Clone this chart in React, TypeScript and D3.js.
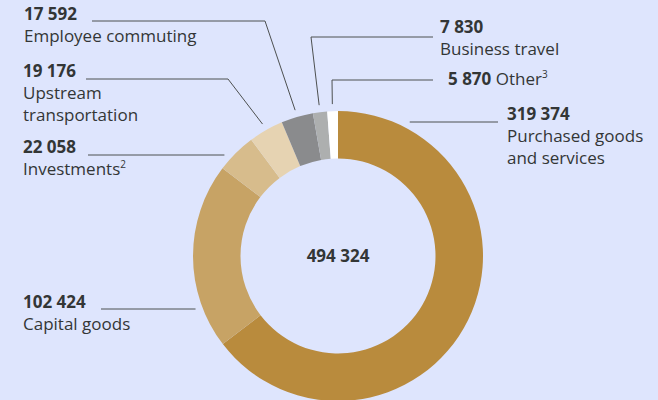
import React from "react";
import * as d3 from "d3";

const categories = [
  "Purchased goods and services",
  "Capital goods",
  "Investments",
  "Upstream transportation",
  "Employee commuting",
  "Business travel",
  "Other",
];
const values = [319374, 102424, 22058, 19176, 17592, 7830, 5870];
const valueLabels = ["319 374", "102 424", "22 058", "19 176", "17 592", "7 830", "5 870"];
const totalLabel = "494 324";
const colors = ["#b98b3d", "#c7a365", "#d7bc8c", "#e6d3b2", "#8a8b8d", "#adafaf", "#ffffff"];

// label layout (positions only)
type Lab = {
  x: number; y: number; anchor: "start";
  lines: string[]; sup?: string; inline?: boolean;
  lineY: number; lineX0: number; lineX1?: number; elbowX?: number;
};
const layout: Lab[] = [
  { x: 507, y: 120, anchor: "start", lines: ["Purchased goods", "and services"], lineY: 122, lineX0: 498 },
  { x: 23, y: 308, anchor: "start", lines: ["Capital goods"], lineY: 309, lineX0: 101 },
  { x: 23, y: 153, anchor: "start", lines: ["Investments"], sup: "2", lineY: 155, lineX0: 88 },
  { x: 23, y: 77, anchor: "start", lines: ["Upstream", "transportation"], lineY: 79, lineX0: 86, elbowX: 228 },
  { x: 24, y: 20, anchor: "start", lines: ["Employee commuting"], lineY: 21, lineX0: 92, elbowX: 265 },
  { x: 440, y: 33, anchor: "start", lines: ["Business travel"], lineY: 37, lineX0: 433, elbowX: 311 },
  { x: 448, y: 85, anchor: "start", lines: ["Other"], sup: "3", inline: true, lineY: 80, lineX0: 433, elbowX: 332 },
];

const W = 658, H = 400;
const cx = 338, cy = 256;
const rOuter = 145, rInner = 97.5;
const rLine = 152;
const FONT = "'Open Sans', 'Noto Sans', sans-serif";
const TXT = "#333636";

export default function App() {
  const pie = d3.pie<number>().sort(null).value((d) => d).startAngle(0).endAngle(2 * Math.PI);
  const arcs = pie(values);
  const arc = d3.arc<d3.PieArcDatum<number>>().innerRadius(rInner).outerRadius(rOuter);

  return (
    <svg width={W} height={H} style={{ position: "absolute", left: 0, top: 0, fontFamily: FONT }}>
      <rect width={W} height={H} fill="#dee5fd" />
      <g transform={`translate(${cx},${cy})`}>
        {arcs.map((a, i) => (
          <path key={i} d={arc(a) || ""} fill={colors[i]} />
        ))}
      </g>
      <text x={cx} y={262} textAnchor="middle" fontSize={17} fontWeight={700} fill={TXT}>
        {totalLabel}
      </text>
      {layout.map((L, i) => {
        const a = arcs[i];
        const mid = (a.startAngle + a.endAngle) / 2;
        let path = "";
        if (L.elbowX !== undefined) {
          const ex = cx + rLine * Math.sin(mid);
          const ey = cy - rLine * Math.cos(mid);
          path = `M${L.lineX0},${L.lineY}H${L.elbowX}L${ex},${ey}`;
        } else {
          const dy = L.lineY - cy;
          const dx = Math.sqrt(Math.max(0, rLine * rLine - dy * dy));
          const sx = Math.sin(mid) < 0 ? cx - dx : cx + dx;
          path = `M${L.lineX0},${L.lineY}H${sx}`;
        }
        return (
          <g key={i}>
            <path d={path} fill="none" stroke="#4d5050" strokeWidth={1} />
            {L.inline ? (
              <text x={L.x} y={L.y} fontSize={17} fill={TXT}>
                <tspan fontWeight={700}>{valueLabels[i]}</tspan>
                <tspan> {L.lines[0]}</tspan>
                {L.sup && <tspan fontSize={10} dy={-7}>{L.sup}</tspan>}
              </text>
            ) : (
              <text x={L.x} y={L.y} fontSize={17} fill={TXT}>
                <tspan fontWeight={700}>{valueLabels[i]}</tspan>
                {L.lines.map((ln, j) => (
                  <tspan key={j} x={L.x} y={L.y + 22 * (j + 1)}>
                    {ln}
                    {L.sup && j === L.lines.length - 1 ? (
                      <tspan fontSize={10} dy={-7}>{L.sup}</tspan>
                    ) : null}
                  </tspan>
                ))}
              </text>
            )}
          </g>
        );
      })}
    </svg>
  );
}
